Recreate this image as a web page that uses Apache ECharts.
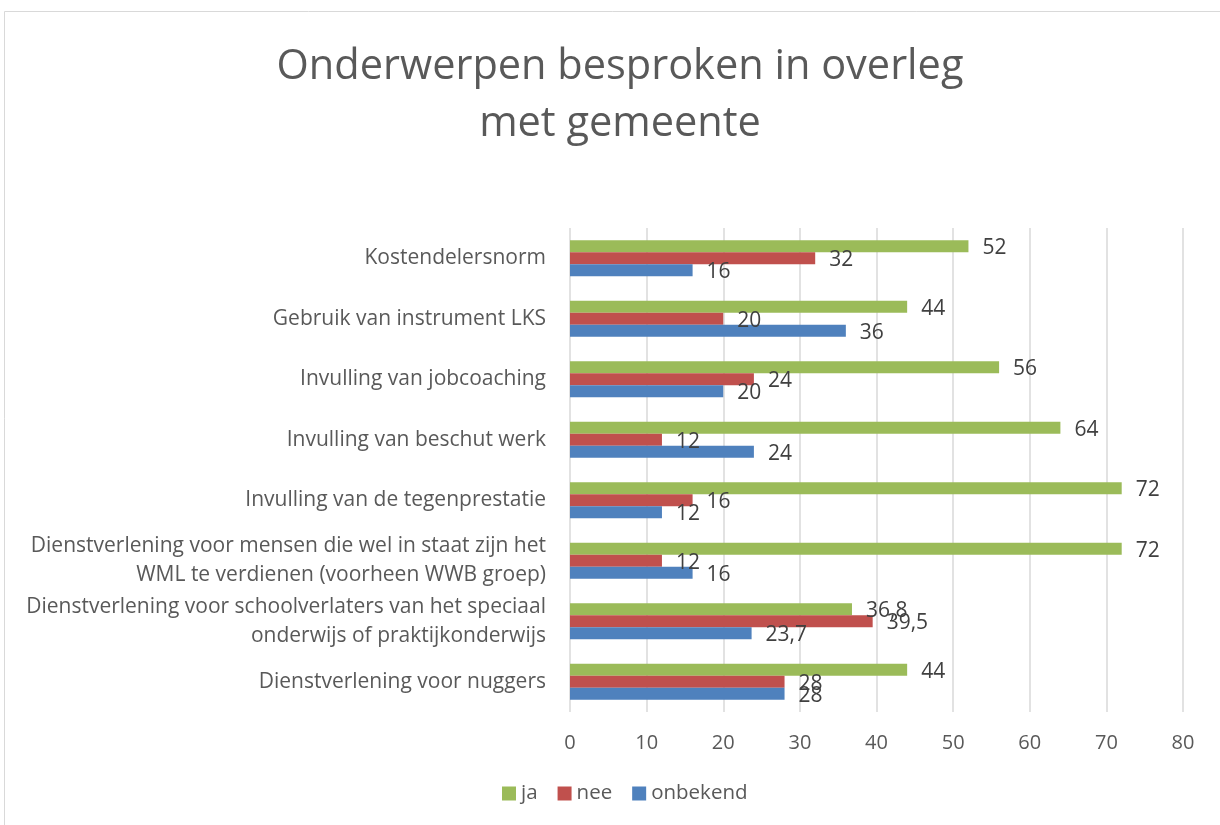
<!DOCTYPE html>
<html>
<head>
<meta charset="utf-8">
<script src="https://cdn.jsdelivr.net/npm/echarts@6/dist/echarts.min.js"></script>
<style>html,body{margin:0;padding:0;background:#fff;}#c{width:1220px;height:825px;}</style>
</head>
<body>
<div id="c"></div>
<script>
var categories = [
  'Kostendelersnorm',
  'Gebruik van instrument LKS',
  'Invulling van jobcoaching',
  'Invulling van beschut werk',
  'Invulling van de tegenprestatie',
  'Dienstverlening voor mensen die wel in staat zijn het\nWML te verdienen (voorheen WWB groep)',
  'Dienstverlening voor schoolverlaters van het speciaal\nonderwijs of praktijkonderwijs',
  'Dienstverlening voor nuggers'
];
var ja = [52, 44, 56, 64, 72, 72, 36.8, 44];
var nee = [32, 20, 24, 12, 16, 12, 39.5, 28];
var onbekend = [16, 36, 20, 24, 12, 16, 23.7, 28];
var xTicks = [0, 10, 20, 30, 40, 50, 60, 70, 80];

var FONT = '"Open Sans", "Noto Sans", sans-serif';
var TXT = '#595959';

function mkSeries(name, data, color) {
  return {
    name: name, type: 'bar', data: data, barWidth: 12, barGap: '0%', barCategoryGap: '38%',
    itemStyle: { color: color },
    label: {
      show: true, position: 'right', distance: 14, offset: [0, 2],
      fontFamily: FONT, fontSize: 21, color: '#404040',
      formatter: function (p) { return String(p.value).replace('.', ','); }
    }
  };
}

var chart = echarts.init(document.getElementById('c'), null, { renderer: 'canvas' });
chart.setOption({
  animation: false,
  backgroundColor: '#ffffff',
  title: {
    text: 'Onderwerpen besproken in overleg\nmet gemeente',
    left: 615, top: 34, textAlign: 'center',
    textStyle: { fontFamily: FONT, fontSize: 41.5, fontWeight: 'normal', color: TXT, lineHeight: 57 }
  },
  legend: {
    data: ['ja', 'nee', 'onbekend'],
    bottom: 16, left: 497,
    itemWidth: 14, itemHeight: 14, itemGap: 20, itemStyle: {},
    icon: 'rect',
    textStyle: { fontFamily: FONT, fontSize: 20.5, color: TXT }
  },
  grid: { left: 570, right: 37, top: 228, bottom: 113, containLabel: false },
  xAxis: {
    type: 'value', min: 0, max: 80, interval: 10,
    axisLine: { show: false }, axisTick: { show: false },
    splitLine: { show: true, lineStyle: { color: '#d9d9d9', width: 1.5 } },
    axisLabel: {
      fontFamily: FONT, fontSize: 20, color: TXT, margin: 21,
      formatter: function (v) { return xTicks.indexOf(v) >= 0 ? String(v) : ''; }
    }
  },
  yAxis: {
    type: 'category', data: categories, inverse: true,
    axisLine: { show: false }, axisTick: { show: false },
    axisLabel: { fontFamily: FONT, fontSize: 21, color: TXT, margin: 24, lineHeight: 29, align: 'right' }
  },
  graphic: [{
    type: 'rect', shape: { x: 4.5, y: 11.5, width: 1240, height: 840 },
    style: { fill: 'none', stroke: '#d9d9d9', lineWidth: 1 }, silent: true
  }],
  series: [
    mkSeries('ja', ja, '#9BBB59'),
    mkSeries('nee', nee, '#C0504D'),
    mkSeries('onbekend', onbekend, '#4F81BD')
  ]
});
</script>
</body>
</html>
